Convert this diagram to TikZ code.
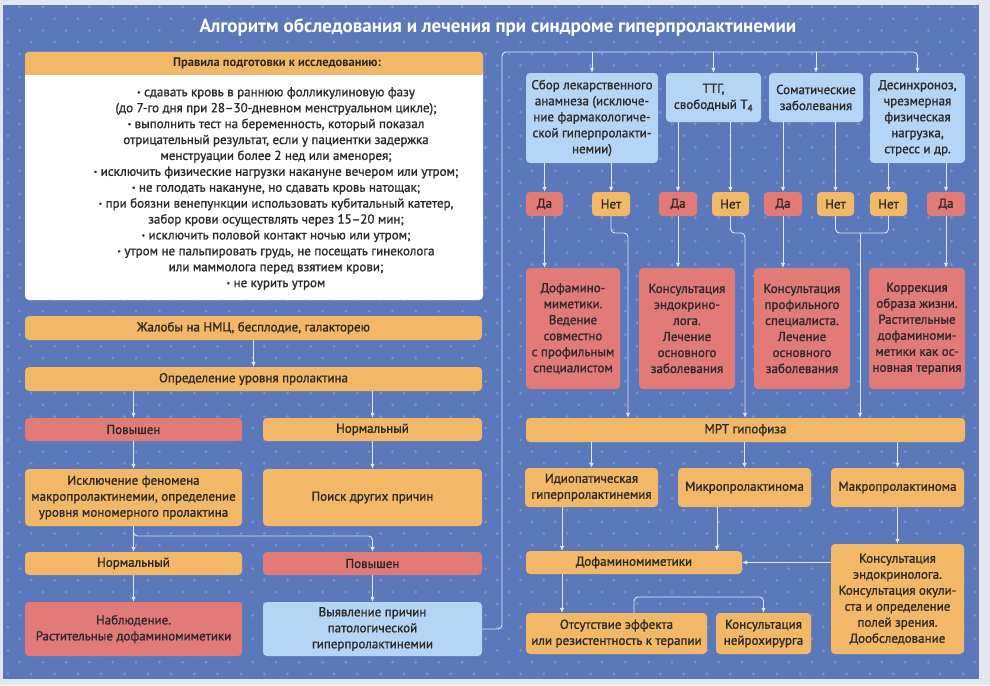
\documentclass[tikz,border=0pt]{standalone}
\usepackage{fontspec}
\setmainfont{PT Sans}[FakeBold=1.2]
\newfontfamily\titlefont{PT Sans Bold}
\usetikzlibrary{arrows.meta}
\definecolor{bgblue}{HTML}{5B78BB}
\definecolor{dotblue}{HTML}{7A93CC}
\definecolor{edgec}{HTML}{E4E6EF}
\definecolor{obox}{HTML}{F2B867}
\definecolor{rbox}{HTML}{E27A78}
\definecolor{bbox}{HTML}{B5D5F5}
\definecolor{lnc}{HTML}{E2E9F6}
\definecolor{txt}{HTML}{2A2A2A}
\newcommand\bul{\raisebox{1.5pt}{\scalebox{0.6}{•}}}
\begin{document}
\begin{tikzpicture}[x=1pt,y=-1pt,
 box/.style={rounded corners=4pt, inner sep=1pt, align=center, text=txt, font=\fontsize{13}{16}\selectfont},
 ob/.style={box, fill=obox},
 rb/.style={box, fill=rbox},
 bb/.style={box, fill=bbox},
 sz/.style 2 args={minimum width=#1pt, minimum height=#2pt},
 con/.style={draw=lnc, line width=0.9pt, rounded corners=4pt},
 arr/.style={con, -{Latex[length=5pt,width=4.5pt]}},
]
% background
\fill[edgec] (0,0) rectangle (990,685);
\fill[bgblue] (3,5) rectangle (979,679);
\begin{scope}
\clip (3,5) rectangle (979,679);
\foreach \r in {0,...,58}{\foreach \c in {0,...,43}{
  \fill[dotblue] ({-3.7+\c*23.3+mod(\r,2)*11.65},{7+\r*11.7}) circle (1.6pt);}}
\end{scope}
\useasboundingbox (0,0) rectangle (990,685);

\node[text=white, font=\titlefont\fontsize{19}{22}\selectfont] (title) at (498,27)
  {Алгоритм обследования и лечения при синдроме гиперпролактинемии};

% rules box
\node[box, fill=white, sz={458}{248}] (rules) at (254,176) {};
\begin{scope}
\clip[rounded corners=4pt] (rules.north west) rectangle (rules.south east);
\node[ob, rounded corners=0pt, sz={458}{23}] (ruleshead) at (254,63.5) {};
\end{scope}
\node[box, font=\titlefont\fontsize{12.5}{15}\selectfont] (rulestitle) at (277,63.5) {Правила подготовки к исследованию:};
\node[box, font=\fontsize{13}{15.9}\selectfont] (rulestext) at (276,188.5) {\bul{} сдавать кровь в раннюю фолликулиновую фазу\\
(до 7-го дня при 28–30-дневном менструальном цикле);\\
\bul{} выполнить тест на беременность, который показал\\
отрицательный результат, если у пациентки задержка\\
менструации более 2 нед или аменорея;\\
\bul{} исключить физические нагрузки накануне вечером или утром;\\
\bul{} не голодать накануне, но сдавать кровь натощак;\\
\bul{} при боязни венепункции использовать кубитальный катетер,\\
забор крови осуществлять через 15–20 мин;\\
\bul{} исключить половой контакт ночью или утром;\\
\bul{} утром не пальпировать грудь, не посещать гинеколога\\
или маммолога перед взятием крови;\\
\bul{} не курить утром};

% left flow
\node[ob, sz={457}{24}] (zhal) at (253.5,328) {Жалобы на НМЦ, бесплодие, галакторею};
\node[ob, sz={457}{24}] (opr) at (253.5,379) {Определение уровня пролактина};
\node[rb, sz={217}{23}] (pov1) at (133.5,429.5) {Повышен};
\node[ob, sz={219}{23}] (norm1) at (372.5,429.5) {Нормальный};
\node[ob, sz={217}{57}] (iskl) at (133.5,497.5) {Исключение феномена\\макропролактинемии, определение\\уровня мономерного пролактина};
\node[ob, sz={219}{57}] (poisk) at (372.5,497.5) {Поиск других причин};
\node[ob, sz={217}{23}] (norm2) at (133.5,563.5) {Нормальный};
\node[rb, sz={219}{23}] (pov2) at (372.5,563.5) {Повышен};
\node[rb, sz={217}{54}] (nabl) at (133.5,629) {Наблюдение.\\Растительные дофаминомиметики};
\node[bb, sz={219}{54}] (vyyav) at (372.5,629) {Выявление причин\\патологической\\гиперпролактинемии};

\draw[arr] (zhal.south) -- (opr.north);
\draw[arr] (opr.south -| pov1) -- (pov1.north);
\draw[arr] (opr.south -| norm1) -- (norm1.north);
\draw[arr] (pov1.south) -- (iskl.north);
\draw[arr] (norm1.south) -- (poisk.north);
\draw[arr] (iskl.south) -- (norm2.north);
\coordinate (br1) at (372.5,536);
\draw[arr] (iskl.south) |- (br1) -- (pov2.north);
\draw[arr] (norm2.south) -- (nabl.north);
\draw[arr] (pov2.south) -- (vyyav.north);

% right top
\node[bb, sz={132}{90}] (top1) at (592,118) {Сбор лекарственного\\анамнеза (исключе-\\ние фармакологиче-\\ской гиперпролакти-\\немии)};
\node[bb, sz={95}{49}] (top2) at (713.5,97.5) {ТТГ,\\свободный Т\textsubscript{4}};
\node[bb, sz={94}{49}] (top3) at (816,97.5) {Соматические\\заболевания};
\node[bb, sz={95}{90}] (top4) at (917.5,118) {Десинхроноз,\\чрезмерная\\физическая\\нагрузка,\\стресс и др.};

\node[rb, sz={37}{24}] (da1) at (544.5,204) {Да};
\node[ob, sz={38}{24}] (net1) at (611,204) {Нет};
\node[rb, sz={38}{24}] (da2) at (678,204) {Да};
\node[ob, sz={37}{24}] (net2) at (730.5,204) {Нет};
\node[rb, sz={38}{24}] (da3) at (783,204) {Да};
\node[ob, sz={37}{24}] (net3) at (835.5,204) {Нет};
\node[ob, sz={37}{24}] (net4) at (888.5,204) {Нет};
\node[rb, sz={38}{24}] (da4) at (946,204) {Да};

\node[rb, sz={94}{121}] (r1) at (573,328.5) {Дофамино-\\миметики.\\Ведение\\совместно\\с профильным\\специалистом};
\node[rb, sz={96}{121}] (r2) at (687,328.5) {Консультация\\эндокрино-\\лога.\\Лечение\\основного\\заболевания};
\node[rb, sz={96}{121}] (r3) at (802,328.5) {Консультация\\профильного\\специалиста.\\Лечение\\основного\\заболевания};
\node[rb, sz={96}{121}] (r4) at (917,328.5) {Коррекция\\образа жизни.\\Растительные\\дофаминоми-\\метики как ос-\\новная терапия};

\node[ob, sz={439}{24}] (mrt) at (745.5,430) {МРТ гипофиза};
\node[ob, sz={133}{39}] (idio) at (591.5,487.5) {Идиопатическая\\гиперпролактинемия};
\node[ob, sz={133}{39}] (micro) at (744.5,487.5) {Микропролактинома};
\node[ob, sz={133}{39}] (macro) at (897.5,487.5) {Макропролактинома};
\node[ob, sz={216}{23}] (dofa) at (634,562.5) {Дофаминомиметики};
\node[ob, sz={133}{110}] (kons) at (897.5,599) {Консультация\\эндокринолога.\\Консультация окули-\\ста и определение\\полей зрения.\\Дообследование};
\node[ob, sz={181}{41}] (otsut) at (616.5,633.5) {Отсутствие эффекта\\или резистентность к терапии};
\node[ob, sz={95}{41}] (neiro) at (763.5,633.5) {Консультация\\нейрохирурга};

% right connectors
\coordinate (bus) at (502,52);
\draw[arr] (vyyav.east) -| (bus) -| (top4.north);
\draw[arr] (top1.north |- bus) -- (top1.north);
\draw[arr] (top2.north |- bus) -- (top2.north);
\draw[arr] (top3.north |- bus) -- (top3.north);

\draw[arr] (top1.south -| da1) -- (da1.north);
\draw[arr] (top1.south -| net1) -- (net1.north);
\draw[arr] (top2.south -| da2) -- (da2.north);
\draw[arr] (top2.south -| net2) -- (net2.north);
\draw[arr] (top3.south -| da3) -- (da3.north);
\draw[arr] (top3.south -| net3) -- (net3.north);
\draw[arr] (top4.south -| net4) -- (net4.north);
\draw[arr] (top4.south -| da4) -- (da4.north);

\draw[arr] (da1.south) -- (da1.south |- r1.north);
\draw[arr] (da2.south) -- (da2.south |- r2.north);
\draw[arr] (da3.south) -- (da3.south |- r3.north);
\draw[arr] (da4.south) -- (da4.south |- r4.north);

\coordinate (j1) at (628,233);
\coordinate (j2) at (745,233);
\coordinate (j3) at (860,233);
\draw[arr] (net1.south) |- (j1) -- (j1 |- mrt.north);
\draw[arr] (net2.south) |- (j2) -- (j2 |- mrt.north);
\draw[con] (net3.south) |- (j3) -| (net4.south);
\draw[arr] (j3) -- (j3 |- mrt.north);

\draw[arr] (mrt.south -| idio) -- (idio.north);
\draw[arr] (mrt.south -| micro) -- (micro.north);
\draw[arr] (mrt.south -| macro) -- (macro.north);

\coordinate (x1) at (562,0);
\coordinate (x3) at (717,0);
\draw[arr] (idio.south -| x1) -- (dofa.north -| x1);
\draw[arr] (micro.south -| x3) -- (dofa.north -| x3);
\draw[arr] (macro.south) -- (kons.north);
\draw[arr] (kons.west |- dofa.east) -- (dofa.east);
\draw[arr] (dofa.south -| x1) -- (otsut.north -| x1);
\coordinate (x2) at (634,597);
\draw[arr] (otsut.north -| x2) -- (x2) -| (neiro.north);
\end{tikzpicture}
\end{document}
